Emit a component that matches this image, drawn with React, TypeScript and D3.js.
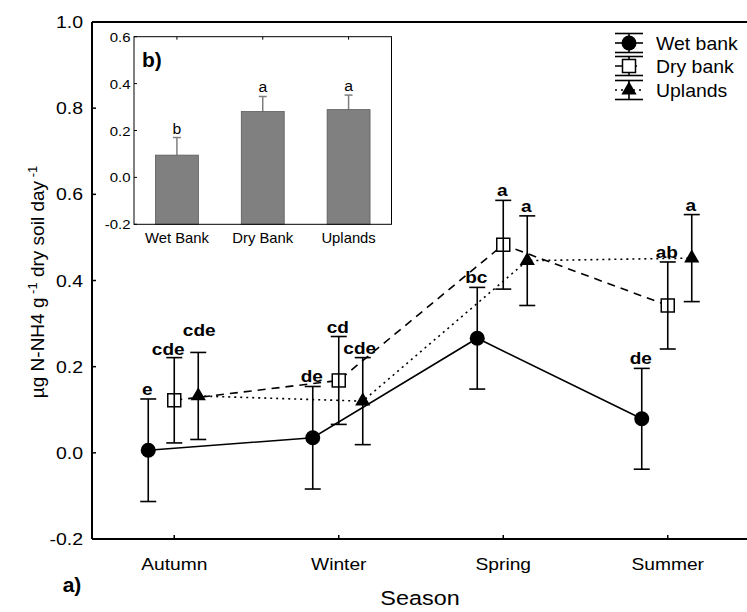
import * as d3 from 'd3';
import React from 'react';

// main chart data
const seasons = ['Autumn', 'Winter', 'Spring', 'Summer'];
const wetMean = [0.006, 0.035, 0.266, 0.079];
const wetErr = [0.119, 0.119, 0.118, 0.117];
const dryMean = [0.122, 0.168, 0.483, 0.342];
const dryErr = [0.099, 0.102, 0.103, 0.101];
const upMean = [0.132, 0.12, 0.446, 0.452];
const upErr = [0.101, 0.101, 0.104, 0.101];
const wetLetters = ['e', 'de', 'bc', 'de'];
const dryLetters = ['cde', 'cd', 'a', 'ab'];
const upLetters = ['cde', 'cde', 'a', 'a'];
const yTicks = [-0.2, 0.0, 0.2, 0.4, 0.6, 0.8, 1.0];

// inset (b) data
const sites = ['Wet Bank', 'Dry Bank', 'Uplands'];
const siteMean = [0.095, 0.281, 0.289];
const siteErr = [0.075, 0.064, 0.062];
const siteLetters = ['b', 'a', 'a'];
const insetTicks = [-0.2, 0.0, 0.2, 0.4, 0.6];

const FONT = 'Liberation Sans, Arial, sans-serif';
const width = 747;
const height = 612;

function T(props: any) {
  const { x, y, size, sx = 1, anchor = 'middle', weight = 'normal', fill = '#000', children } = props;
  return (
    <text
      transform={`translate(${x},${y}) scale(${sx},1)`}
      fontFamily={FONT}
      fontSize={size}
      fontWeight={weight}
      textAnchor={anchor}
      fill={fill}
    >
      {children}
    </text>
  );
}

export default function App() {
  const left = 92;
  const top = 22;
  const bottom = 539;

  const x = d3.scalePoint().domain(seasons).range([left, 750]).padding(0.5);
  const y = d3.scaleLinear().domain([-0.2, 1.0]).range([bottom, top]);

  const series = [
    { name: 'Wet bank', mean: wetMean, err: wetErr, letters: wetLetters, off: -26, dash: null, marker: 'circle', lift: [0, 0, 0, 0], shift: [0, 0, 0, 0] },
    { name: 'Dry bank', mean: dryMean, err: dryErr, letters: dryLetters, off: 0, dash: '8,6', marker: 'square', lift: [-1, 0, 0, 0], shift: [-5, 0, 0, 0] },
    { name: 'Uplands', mean: upMean, err: upErr, letters: upLetters, off: 24, dash: '2,4', marker: 'triangle', lift: [12, 0, 0, 0], shift: [2, -2, 0, 0] },
  ];

  const tri = d3.symbol(d3.symbolTriangle, 100)();

  const marker = (kind: string, cx: number, cy: number, key: any) => {
    if (kind === 'circle') return <circle key={key} cx={cx} cy={cy} r={7.5} fill="#000" />;
    if (kind === 'square')
      return <rect key={key} x={cx - 6.5} y={cy - 6.5} width={13} height={13} fill="#fff" stroke="#000" strokeWidth={1.5} />;
    return <path key={key} d={tri as string} transform={`translate(${cx},${cy})`} fill="#000" />;
  };

  // inset scales
  const ix = d3.scaleBand().domain(sites).range([134, 391.5]).paddingInner(0.5).paddingOuter(0.25);
  const iy = d3.scaleLinear().domain([-0.2, 0.6]).range([224.3, 36.7]);

  return (
    <svg width={width} height={height} style={{ position: 'absolute', left: 0, top: 0, background: '#fff' }}>
      {/* main frame */}
      <line x1={left} x2={width} y1={top} y2={top} stroke="#000" strokeWidth={2} />
      <line x1={left} x2={left} y1={top} y2={bottom} stroke="#000" strokeWidth={2} />
      <line x1={left} x2={width} y1={bottom} y2={bottom} stroke="#000" strokeWidth={2} />

      {yTicks.map((t) => (
        <g key={t}>
          <line x1={left} x2={left + 4} y1={y(t)} y2={y(t)} stroke="#000" strokeWidth={1.5} />
          <T x={83} y={y(t) + 6} size={16.5} sx={1.18} anchor="end">{t.toFixed(1)}</T>
        </g>
      ))}
      {seasons.map((s) => (
        <g key={s}>
          <line x1={x(s)} x2={x(s)} y1={bottom} y2={bottom - 4} stroke="#000" strokeWidth={1.5} />
          <T x={x(s)} y={570} size={16} sx={1.2}>{s}</T>
        </g>
      ))}

      <T x={420} y={605} size={19.5} sx={1.2}>Season</T>
      <T x={72} y={592} size={20} weight="bold" sx={1.05}>a)</T>
      <text
        transform={`translate(44,282) rotate(-90)`}
        fontFamily={FONT}
        fontSize={19}
        textAnchor="middle"
      >
        µg N-NH4 g
        <tspan dy={-7} fontSize={13}> -1</tspan>
        <tspan dy={7}> dry soil day</tspan>
        <tspan dy={-7} fontSize={13}> -1</tspan>
      </text>

      {/* series lines */}
      {series.map((se) => {
        const line = d3
          .line<number>()
          .x((_, i) => (x(seasons[i]) as number) + se.off)
          .y((d) => y(d));
        return (
          <path
            key={se.name}
            d={line(se.mean) as string}
            fill="none"
            stroke="#000"
            strokeWidth={1.6}
            strokeDasharray={se.dash || undefined}
          />
        );
      })}

      {/* markers, error bars, letters */}
      {series.map((se) =>
        se.mean.map((m, i) => {
          const cx = (x(seasons[i]) as number) + se.off;
          const hi = y(m + se.err[i]);
          const lo = y(m - se.err[i]);
          return (
            <g key={se.name + i}>
              {marker(se.marker, cx, y(m), 'm')}
              <line x1={cx} x2={cx} y1={hi} y2={lo} stroke="#000" strokeWidth={1.6} />
              <line x1={cx - 8} x2={cx + 8} y1={hi} y2={hi} stroke="#000" strokeWidth={1.6} />
              <line x1={cx - 8} x2={cx + 8} y1={lo} y2={lo} stroke="#000" strokeWidth={1.6} />
              <T x={cx - 1 + se.shift[i]} y={hi - 4 - se.lift[i]} size={17} weight="bold" sx={1.12}>{se.letters[i]}</T>
            </g>
          );
        })
      )}

      {/* legend */}
      {series.map((se, i) => {
        const ly = [43, 66, 90][i];
        const lx = 629;
        return (
          <g key={'lg' + se.name}>
            <line x1={lx - 14} x2={lx + 14} y1={ly - 9.5} y2={ly - 9.5} stroke="#000" strokeWidth={1.6} />
            <line x1={lx - 14} x2={lx + 14} y1={ly + 9.5} y2={ly + 9.5} stroke="#000" strokeWidth={1.6} />
            <line x1={lx} x2={lx} y1={ly - 9.5} y2={ly + 9.5} stroke="#000" strokeWidth={1.6} />
            <line
              x1={lx - 14}
              x2={lx + 14}
              y1={ly}
              y2={ly}
              stroke="#000"
              strokeWidth={1.6}
              strokeDasharray={se.dash || undefined}
            />
            {marker(se.marker, lx, ly, 'lm')}
            <T x={656} y={ly + 6.5} size={18} sx={1.08} anchor="start">{se.name}</T>
          </g>
        );
      })}

      {/* inset b) */}
      <g>
        {sites.map((s, i) => {
          const bx = ix(s) as number;
          const bw = ix.bandwidth();
          const cx = bx + bw / 2;
          const hi = iy(siteMean[i] + siteErr[i]);
          return (
            <g key={s}>
              <line x1={cx} x2={cx} y1={iy(siteMean[i])} y2={hi} stroke="#7f7f7f" strokeWidth={1.5} />
              <line x1={cx - 4} x2={cx + 4} y1={hi} y2={hi} stroke="#7f7f7f" strokeWidth={1.5} />
              <rect x={bx} y={iy(siteMean[i])} width={bw} height={iy(-0.2) - iy(siteMean[i])} fill="#808080" stroke="#5a5a5a" strokeWidth={0.8} />
              <line x1={cx} x2={cx} y1={iy(0.6)} y2={iy(0.6) + 3} stroke="#000" strokeWidth={1} />
              <T x={cx} y={243} size={14} sx={1.06}>{s}</T>
              <T x={cx} y={hi - 4} size={15} sx={1.05}>{siteLetters[i]}</T>
            </g>
          );
        })}
        <rect x={134} y={iy(0.6)} width={391.5 - 134} height={iy(-0.2) - iy(0.6)} fill="none" stroke="#000" strokeWidth={1} />
        {insetTicks.map((t) => (
          <g key={'it' + t}>
            <line x1={134} x2={137} y1={iy(t)} y2={iy(t)} stroke="#000" strokeWidth={1} />
            <T x={130.5} y={iy(t) + 5} size={13} sx={1.15} anchor="end">{t.toFixed(1)}</T>
          </g>
        ))}
        <T x={142} y={67} size={21} weight="bold" sx={1.0} anchor="start">b)</T>
      </g>
    </svg>
  );
}
